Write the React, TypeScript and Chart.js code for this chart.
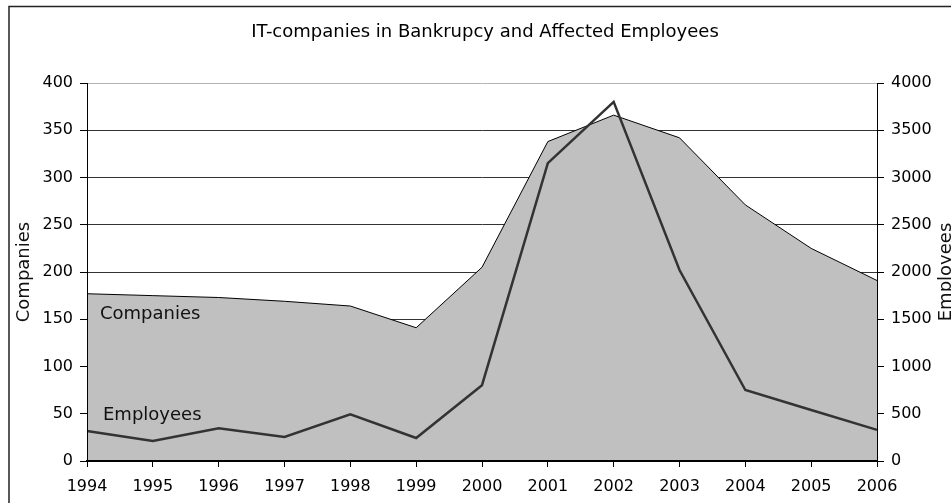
import React, { useEffect, useRef } from "react";
import { Chart, registerables } from "chart.js";

Chart.register(...registerables);

const years = ["1994", "1995", "1996", "1997", "1998", "1999", "2000", "2001", "2002", "2003", "2004", "2005", "2006"];
const companies = [177, 175, 173, 169, 164, 141, 205, 338, 366, 342, 271, 225, 191];
const employees = [318, 213, 347, 254, 495, 243, 802, 3152, 3800, 2021, 751, 540, 329];

const chartTitle = "IT-companies in Bankrupcy and Affected Employees";
const leftAxisTitle = "Companies";
const rightAxisTitle = "Employees";
// in-plot series labels, anchored to the first category and a value on the left axis
const seriesLabelTexts = ["Companies", "Employees"];
const seriesLabelValues = [155, 48.5];
const seriesLabelOffsets = [13, 16];

const FONT = "'DejaVu Sans', sans-serif";
const W = 970;
const H = 520;

export default function App() {
  const ref = useRef<HTMLCanvasElement>(null);

  useEffect(() => {
    const canvas = ref.current!;

    const framePlugin = {
      id: "frame",
      beforeDraw(chart: any) {
        const { ctx, width, height } = chart;
        ctx.save();
        ctx.fillStyle = "#fff";
        ctx.fillRect(0, 0, width, height);
        ctx.strokeStyle = "#222";
        ctx.lineWidth = 1.5;
        ctx.strokeRect(9, 6.5, width - 17, height - 14);
        ctx.restore();
      },
    };

    const labelsPlugin = {
      id: "seriesLabels",
      afterDatasetsDraw(chart: any) {
        const { ctx, scales } = chart;
        const x = scales.x;
        const y = scales.y;
        ctx.save();
        ctx.font = `18px ${FONT}`;
        ctx.fillStyle = "#111";
        ctx.textBaseline = "middle";
        ctx.textAlign = "left";
        seriesLabelTexts.forEach((t, i) => {
          ctx.fillText(t, x.getPixelForValue(0) + seriesLabelOffsets[i], y.getPixelForValue(seriesLabelValues[i]));
        });
        const r = scales.y1;
        ctx.translate(r.right - 24, (r.top + r.bottom) / 2);
        ctx.rotate(-Math.PI / 2);
        ctx.textAlign = "center";
        ctx.fillText(rightAxisTitle, 0, 0);
        ctx.restore();
      },
    };

    const chart = new Chart(canvas, {
      type: "line",
      data: {
        labels: years,
        datasets: [
          {
            label: "Employees",
            data: employees,
            yAxisID: "y1",
            borderColor: "#333",
            borderWidth: 2.5,
            pointRadius: 0,
            fill: false,
            tension: 0,
            order: 0,
          },
          {
            label: "Companies",
            data: companies,
            yAxisID: "y",
            borderColor: "#000",
            borderWidth: 1,
            backgroundColor: "#c0c0c0",
            fill: "origin",
            pointRadius: 0,
            tension: 0,
            order: 1,
          },
        ],
      },
      options: {
        responsive: false,
        animation: false,
        devicePixelRatio: 1,
        layout: { padding: 0 },
        plugins: {
          legend: { display: false },
          tooltip: { enabled: false },
          title: {
            display: true,
            text: chartTitle,
            color: "#000",
            font: { family: FONT, size: 18, weight: "normal" },
            padding: { top: 21.7, bottom: 39.7 },
          },
        },
        scales: {
          x: {
            type: "category",
            offset: false,
            grid: { drawOnChartArea: false, drawTicks: true, tickLength: 6, tickColor: "#000" },
            border: { color: "#000", width: 2, z: 1 },
            ticks: { font: { family: FONT, size: 16 }, color: "#000", padding: 10, maxRotation: 0, autoSkip: false },
            afterFit: (s: any) => {
              s.height = H - 461;
            },
          },
          y: {
            position: "left",
            min: 0,
            max: 400,
            ticks: {
              stepSize: 50,
              font: { family: FONT, size: 16 },
              color: "#000",
              padding: 7,
              callback: (v: any) => String(v),
            },
            grid: {
              color: (c: any) => (c.tick && c.tick.value === 400 ? "#b4b4b4" : "#333"),
              tickColor: "#000",
              tickLength: 7,
            },
            border: { color: "#000", width: 1, z: 1 },
            title: {
              display: true,
              text: leftAxisTitle,
              color: "#111",
              font: { family: FONT, size: 18 },
              padding: { top: 13.2, bottom: 0 },
            },
            afterFit: (s: any) => {
              s.width = 87;
            },
          },
          y1: {
            position: "right",
            min: 0,
            max: 4000,
            ticks: {
              stepSize: 500,
              font: { family: FONT, size: 16 },
              color: "#000",
              padding: 7,
              callback: (v: any) => String(v),
            },
            grid: { drawOnChartArea: false, tickColor: "#000", tickLength: 7 },
            border: { color: "#000", width: 1, z: 1 },
            afterFit: (s: any) => {
              s.width = W - 877;
            },
          },
        },
      },
      plugins: [framePlugin, labelsPlugin],
    });

    return () => chart.destroy();
  }, []);

  return (
    <div style={{ position: "absolute", left: 0, top: 0, width: 951, height: 503, overflow: "hidden", background: "#fff" }}>
      <canvas ref={ref} width={W} height={H} style={{ display: "block", width: W, height: H }} />
    </div>
  );
}
